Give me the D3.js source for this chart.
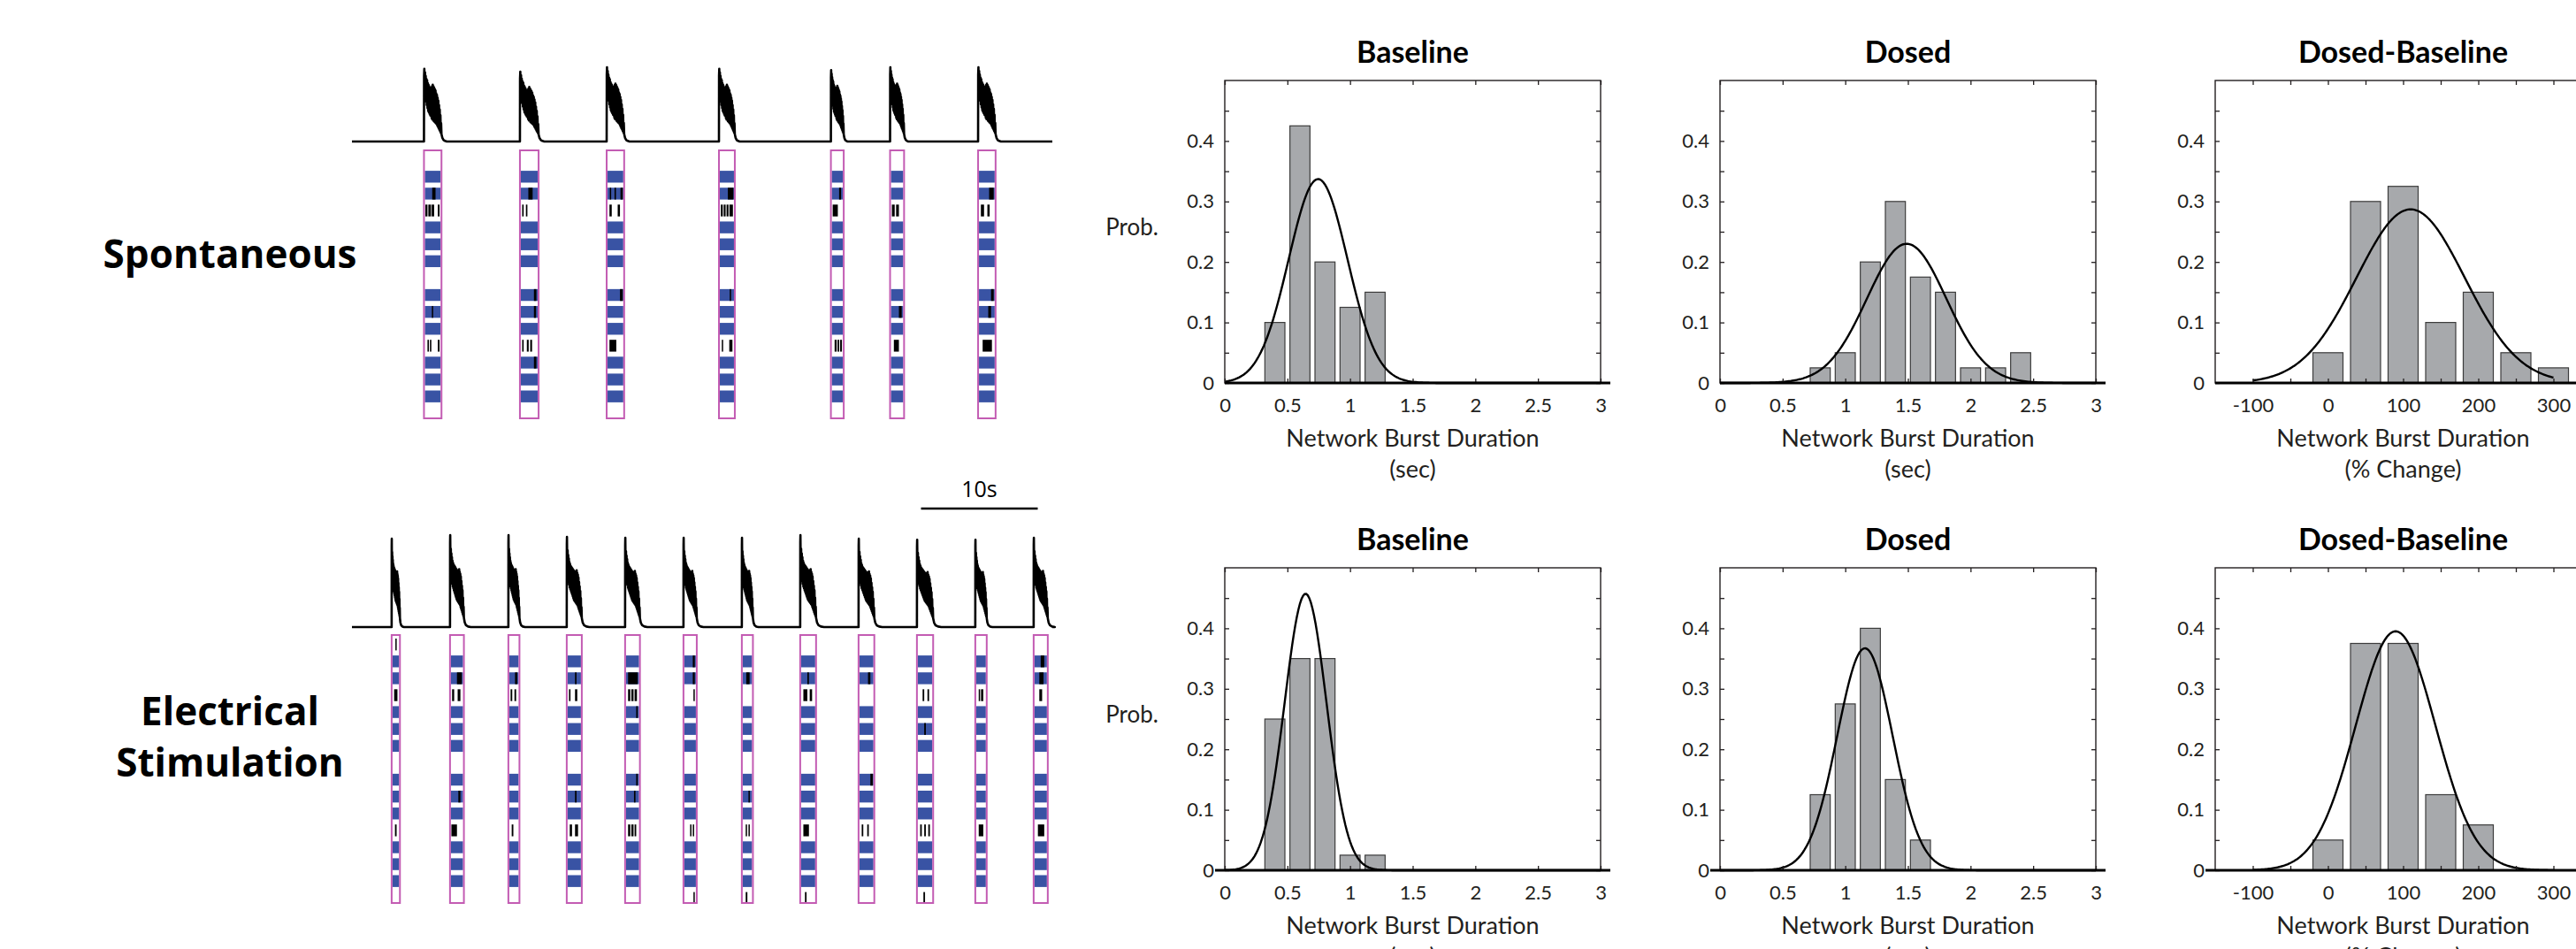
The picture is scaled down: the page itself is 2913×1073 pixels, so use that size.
<!DOCTYPE html>
<html>
<head>
<meta charset="utf-8">
<script src="https://cdn.jsdelivr.net/npm/d3@7"></script>
<style>
  body { margin: 0; background: #fff; }
  svg { display: block; }
</style>
</head>
<body>
<div id="chart"></div>
<script>
// ---------- data ----------
var conditionLabels = [["Spontaneous"], ["Electrical", "Stimulation"]];
var panelTitles = ["Baseline", "Dosed", "Dosed-Baseline"];
var xLabelLines = [["Network Burst Duration", "(sec)"], ["Network Burst Duration", "(sec)"], ["Network Burst Duration", "(% Change)"]];
var secTickLabels = [0, 0.5, 1, 1.5, 2, 2.5, 3];
var pctTickLabels = [-100, 0, 100, 200, 300];
var probTickLabels = [0, 0.1, 0.2, 0.3, 0.4];

// spontaneous histograms (bin centre, probability)
var spontBaselineBins = [0.4, 0.6, 0.8, 1.0, 1.2];
var spontBaselineProb = [0.1, 0.425, 0.2, 0.125, 0.15];
var spontDosedBins = [0.8, 1.0, 1.2, 1.4, 1.6, 1.8, 2.0, 2.2, 2.4];
var spontDosedProb = [0.025, 0.05, 0.2, 0.3, 0.175, 0.15, 0.025, 0.025, 0.05];
var spontChangeBins = [0, 50, 100, 150, 200, 250, 300];
var spontChangeProb = [0.05, 0.3, 0.325, 0.1, 0.15, 0.05, 0.025];

// stimulated histograms
var stimBaselineBins = [0.4, 0.6, 0.8, 1.0, 1.2];
var stimBaselineProb = [0.25, 0.35, 0.35, 0.025, 0.025];
var stimDosedBins = [0.8, 1.0, 1.2, 1.4, 1.6];
var stimDosedProb = [0.125, 0.275, 0.4, 0.15, 0.05];
var stimChangeBins = [0, 50, 100, 150, 200];
var stimChangeProb = [0.05, 0.375, 0.375, 0.125, 0.075];

// normal fits drawn over each histogram: [Baseline, Dosed, Dosed-Baseline]
var spontFitMean = [0.745, 1.49, 110];
var spontFitSd = [0.235, 0.317, 72];
var spontFitPeak = [0.337, 0.23, 0.287];
var stimFitMean = [0.645, 1.157, 90];
var stimFitSd = [0.167, 0.221, 53];
var stimFitPeak = [0.457, 0.367, 0.395];

// network burst traces (60 s recordings): onset (s), duration (s), relative peak
var spontOnsets = [6.17, 14.39, 21.82, 31.44, 41.03, 46.1, 53.64];
var spontDurations = [1.5, 1.6, 1.5, 1.36, 1.1, 1.2, 1.5];
var spontPeaks = [0.98, 0.94, 1.0, 0.98, 0.96, 1.0, 1.0];
var stimOnsets = [3.4, 8.4, 13.4, 18.4, 23.4, 28.4, 33.4, 38.4, 43.4, 48.4, 53.4, 58.4];
var stimDurations = [0.71, 1.19, 0.95, 1.29, 1.27, 1.14, 0.95, 1.36, 1.35, 1.39, 0.98, 1.21];
var stimPeaks = [0.96, 1.0, 1.0, 0.98, 0.97, 0.97, 0.97, 1.0, 0.96, 0.95, 0.95, 0.97];

// shape of one burst in the trace: time as fraction of burst duration, amplitude as fraction of peak
var spontShapeT = [0, 0.005, 0.02, 0.04, 0.06, 0.08, 0.10, 0.12, 0.14, 0.16, 0.18, 0.20, 0.22, 0.24, 0.26, 0.28, 0.30, 0.32, 0.34, 0.36, 0.38, 0.40, 0.42, 0.44, 0.46, 0.48, 0.50, 0.52, 0.54, 0.56, 0.58, 0.60, 0.62, 0.64, 0.66, 0.68, 0.70, 0.72, 0.74, 0.76, 0.78, 0.80, 0.82, 0.84, 0.86, 0.88, 0.90, 0.92, 0.94, 0.96, 0.98, 1.0, 1.05, 1.12, 1.2, 1.3];
var spontShapeA = [0, 0.9, 1.0, 0.72, 0.95, 0.62, 0.9, 0.55, 0.86, 0.5, 0.84, 0.46, 0.8, 0.42, 0.78, 0.4, 0.76, 0.38, 0.72, 0.36, 0.7, 0.35, 0.74, 0.32, 0.76, 0.3, 0.78, 0.3, 0.76, 0.28, 0.74, 0.27, 0.72, 0.26, 0.7, 0.25, 0.66, 0.24, 0.64, 0.22, 0.6, 0.2, 0.56, 0.18, 0.5, 0.16, 0.44, 0.14, 0.36, 0.12, 0.25, 0.1, 0.05, 0.02, 0.008, 0];
var stimShapeT = [0, 0.005, 0.015, 0.04, 0.06, 0.08, 0.10, 0.12, 0.14, 0.16, 0.18, 0.20, 0.22, 0.24, 0.26, 0.28, 0.30, 0.32, 0.34, 0.36, 0.38, 0.40, 0.42, 0.44, 0.46, 0.48, 0.50, 0.52, 0.54, 0.56, 0.58, 0.60, 0.62, 0.64, 0.66, 0.68, 0.70, 0.72, 0.74, 0.76, 0.78, 0.80, 0.82, 0.84, 0.86, 0.88, 0.90, 0.92, 0.94, 0.96, 0.98, 1.0, 1.06, 1.15, 1.3, 1.5];
var stimShapeA = [0, 0.92, 1.0, 0.6, 0.85, 0.55, 0.8, 0.5, 0.76, 0.47, 0.72, 0.44, 0.7, 0.42, 0.68, 0.4, 0.67, 0.38, 0.66, 0.36, 0.65, 0.34, 0.64, 0.32, 0.63, 0.3, 0.62, 0.29, 0.6, 0.28, 0.6, 0.27, 0.62, 0.26, 0.63, 0.25, 0.6, 0.24, 0.58, 0.22, 0.55, 0.2, 0.5, 0.18, 0.45, 0.16, 0.4, 0.14, 0.32, 0.12, 0.22, 0.1, 0.05, 0.02, 0.006, 0];

// 16 electrode rows per burst; rows that carry a blue raster block
var blueRows = [1, 2, 4, 5, 6, 8, 9, 10, 12, 13, 14];
// black spike marks per burst: [row, start fraction, end fraction] of the burst box
var spontSpikes = [
  [[2,0.47,0.66],[3,0.08,0.2],[3,0.25,0.4],[3,0.44,0.58],[3,0.79,0.89],[9,0.45,0.52],[11,0.2,0.28],[11,0.34,0.42],[11,0.79,0.89]],
  [[2,0.45,0.68],[3,0.12,0.2],[3,0.32,0.4],[8,0.75,0.88],[9,0.75,0.86],[11,0.12,0.2],[11,0.37,0.47],[11,0.55,0.65],[12,0.75,0.88]],
  [[2,0.18,0.24],[2,0.45,0.53],[2,0.79,0.92],[3,0.16,0.29],[3,0.63,0.76],[8,0.76,0.92],[11,0.16,0.55]],
  [[2,0.56,0.91],[3,0.12,0.24],[3,0.3,0.42],[3,0.48,0.6],[3,0.66,0.88],[8,0.68,0.76],[11,0.18,0.26],[11,0.65,0.85]],
  [[2,0.64,0.79],[3,0.14,0.54],[11,0.29,0.45],[11,0.52,0.65],[11,0.72,0.86]],
  [[3,0.13,0.33],[3,0.43,0.63],[9,0.63,0.83],[11,0.27,0.63]],
  [[2,0.63,0.89],[3,0.16,0.34],[3,0.53,0.66],[8,0.74,0.89],[9,0.58,0.74],[11,0.26,0.79]]
];
var stimSpikes = [
  [[0,0.45,0.6],[3,0.3,0.7],[11,0.4,0.6]],
  [[2,0.5,0.85],[3,0.15,0.3],[3,0.55,0.75],[9,0.6,0.75],[11,0.1,0.5]],
  [[2,0.6,0.8],[3,0.2,0.35],[3,0.55,0.7],[11,0.3,0.45]],
  [[2,0.55,0.65],[3,0.15,0.25],[3,0.55,0.7],[9,0.55,0.65],[11,0.2,0.35],[11,0.55,0.75]],
  [[2,0.2,0.85],[3,0.2,0.35],[3,0.42,0.57],[3,0.64,0.8],[4,0.75,0.85],[8,0.75,0.85],[9,0.6,0.7],[11,0.2,0.35],[11,0.42,0.57],[11,0.64,0.75]],
  [[1,0.7,0.85],[2,0.7,0.85],[3,0.75,0.85],[11,0.5,0.6],[11,0.7,0.8],[15,0.75,0.85]],
  [[2,0.4,0.7],[9,0.6,0.7],[11,0.35,0.45],[11,0.6,0.7],[15,0.35,0.5]],
  [[2,0.45,0.55],[3,0.2,0.45],[3,0.6,0.75],[11,0.2,0.55],[15,0.3,0.4]],
  [[2,0.6,0.75],[8,0.75,0.9],[11,0.2,0.3],[11,0.55,0.65]],
  [[3,0.35,0.45],[3,0.65,0.75],[5,0.45,0.55],[11,0.2,0.3],[11,0.45,0.55],[11,0.7,0.8],[15,0.4,0.5]],
  [[3,0.3,0.42],[3,0.5,0.7],[11,0.3,0.7]],
  [[1,0.5,0.75],[2,0.4,0.7],[3,0.4,0.6],[11,0.3,0.75]]
];
var scaleBarStart = 48.75, scaleBarSeconds = 10;

// ---------- layout ----------
var W = 2913, H = 1073;
var svg = d3.select("#chart").append("svg")
    .attr("width", W)
    .attr("height", H);

var ink = "#231f20";
var histFont = "Lato, 'Open Sans', sans-serif";

// left column labels
var labelY = [[303], [820, 878]];
conditionLabels.forEach(function(lines, r) {
  lines.forEach(function(t, k) {
    svg.append("text")
      .text(t)
      .attr("x", 260)
      .attr("y", labelY[r][k])
      .attr("text-anchor", "middle")
      .attr("font-family", "'Open Sans', sans-serif")
      .attr("font-weight", "bold")
      .attr("font-size", "44px")
      .attr("fill", "#000");
  });
});

// ---------- traces + rasters ----------
var time = d3.scaleLinear().domain([0, 60]).range([398, 1190]);

function drawTrace(onsets, durations, peaks, shapeT, shapeA, spikes, baseY, peakY, boxTop, boxBottom) {
  var amp = d3.scaleLinear().domain([0, 1]).range([baseY, peakY]);
  var pts = [[0, 0]];
  onsets.forEach(function(t0, i) {
    shapeT.forEach(function(f, k) {
      pts.push([t0 + f * durations[i], shapeA[k] * peaks[i]]);
    });
  });
  pts.push([60, 0]);

  svg.append("path")
    .datum(pts)
    .attr("fill", "none")
    .attr("stroke", "#000")
    .attr("stroke-width", 2.6)
    .attr("stroke-linejoin", "round")
    .attr("d", d3.line()
      .x(function(d) { return time(d[0]); })
      .y(function(d) { return amp(d[1]); }));

  var rows = d3.scaleBand().domain(d3.range(16)).range([boxTop + 4, boxBottom + 1]).paddingInner(0.3);

  onsets.forEach(function(t0, i) {
    var x0 = time(t0), x1 = time(t0 + durations[i]);
    var g = svg.append("g");
    g.selectAll("rect.blue")
      .data(blueRows)
      .enter().append("rect")
      .attr("x", x0 + 1)
      .attr("width", x1 - x0 - 2)
      .attr("y", function(r) { return rows(r); })
      .attr("height", rows.bandwidth())
      .attr("fill", "#3953a4");
    g.selectAll("rect.spike")
      .data(spikes[i])
      .enter().append("rect")
      .attr("x", function(d) { return x0 + d[1] * (x1 - x0); })
      .attr("width", function(d) { return Math.max(1.5, (d[2] - d[1]) * (x1 - x0)); })
      .attr("y", function(d) { return rows(d[0]); })
      .attr("height", rows.bandwidth())
      .attr("fill", "#000");
    g.append("rect")
      .attr("x", x0)
      .attr("y", boxTop)
      .attr("width", x1 - x0)
      .attr("height", boxBottom - boxTop)
      .attr("fill", "none")
      .attr("stroke", "#c35cb3")
      .attr("stroke-width", 2);
  });
}

drawTrace(spontOnsets, spontDurations, spontPeaks, spontShapeT, spontShapeA, spontSpikes, 160, 76, 170, 473);
drawTrace(stimOnsets, stimDurations, stimPeaks, stimShapeT, stimShapeA, stimSpikes, 709, 605, 718, 1021);

// 10 s scale bar
svg.append("line")
  .attr("x1", time(scaleBarStart))
  .attr("x2", time(scaleBarStart + scaleBarSeconds))
  .attr("y1", 575).attr("y2", 575)
  .attr("stroke", "#000")
  .attr("stroke-width", 2.5);
svg.append("text")
  .text(scaleBarSeconds + "s")
  .attr("x", time(scaleBarStart + scaleBarSeconds / 2))
  .attr("y", 562)
  .attr("text-anchor", "middle")
  .attr("font-family", "'Open Sans', sans-serif")
  .attr("font-size", "25px")
  .attr("fill", "#000");

// ---------- histograms ----------
var panelLeft = [1385, 1945, 2505];
var rowTop = [91, 642];
var PW = 425, PH = 342;

var histRows = [
  {bins: [spontBaselineBins, spontDosedBins, spontChangeBins],
   prob: [spontBaselineProb, spontDosedProb, spontChangeProb],
   mean: spontFitMean, sd: spontFitSd, peak: spontFitPeak, extL: 0},
  {bins: [stimBaselineBins, stimDosedBins, stimChangeBins],
   prob: [stimBaselineProb, stimDosedProb, stimChangeProb],
   mean: stimFitMean, sd: stimFitSd, peak: stimFitPeak, extL: 11}
];

histRows.forEach(function(row, r) {
  for (var p = 0; p < 3; p++) {
    var isPct = (p === 2);
    var g = svg.append("g")
      .attr("transform", "translate(" + panelLeft[p] + "," + rowTop[r] + ")");

    var x = d3.scaleLinear()
      .domain(isPct ? [-150, 350] : [0, 3])
      .range([0, PW]);
    var y = d3.scaleLinear()
      .domain([0, 0.5])
      .range([PH, 0]);

    var binW = isPct ? 50 : 0.2;
    var xMinor = isPct ? d3.range(-100, 351, 50) : d3.range(0, 3.01, 0.5);
    var yMinor = d3.range(0, 0.49, 0.05);
    var xLabels = isPct ? pctTickLabels : secTickLabels;

    // bars
    var data = row.bins[p].map(function(c, i) { return {c: c, v: row.prob[p][i]}; });
    g.selectAll("rect.bar")
      .data(data)
      .enter().append("rect")
      .attr("x", function(d) { return x(d.c - 0.4 * binW); })
      .attr("width", function(d) { return x(d.c + 0.4 * binW) - x(d.c - 0.4 * binW); })
      .attr("y", function(d) { return y(d.v); })
      .attr("height", function(d) { return PH - y(d.v); })
      .attr("fill", "#a7a9ac")
      .attr("stroke", "#3c3c3c")
      .attr("stroke-width", 1.2);

    // fitted normal curve
    var lo = isPct ? -100 : 0, hi = isPct ? 300 : 3;
    var m = row.mean[p], s = row.sd[p], a = row.peak[p];
    var curve = d3.range(0, 241).map(function(k) {
      var xv = lo + (hi - lo) * k / 240;
      return [xv, a * Math.exp(-0.5 * Math.pow((xv - m) / s, 2))];
    });
    g.append("path")
      .datum(curve)
      .attr("fill", "none")
      .attr("stroke", "#000")
      .attr("stroke-width", 2.4)
      .attr("d", d3.line()
        .x(function(d) { return x(d[0]); })
        .y(function(d) { return y(d[1]); }));

    // frame
    g.append("rect")
      .attr("width", PW).attr("height", PH)
      .attr("fill", "none")
      .attr("stroke", ink)
      .attr("stroke-width", 1.4);

    // inward ticks on all four sides
    var fmtY = function(d) {
      var k = Math.round(d * 100);
      return (k % 10 === 0 && k <= 40) ? (k === 0 ? "0" : d3.format(".1f")(d)) : "";
    };
    var fmtX = function(d) {
      return xLabels.some(function(v) { return Math.abs(v - d) < 1e-9; }) ? String(d) : "";
    };
    var axL = g.append("g").call(d3.axisLeft(y).tickValues(yMinor).tickSizeInner(-5).tickSizeOuter(0).tickPadding(12).tickFormat(fmtY));
    var axR = g.append("g").attr("transform", "translate(" + PW + ",0)")
      .call(d3.axisRight(y).tickValues(yMinor).tickSizeInner(-5).tickSizeOuter(0).tickFormat(""));
    var axT = g.append("g").call(d3.axisTop(x).tickValues(xMinor).tickSizeInner(-5).tickSizeOuter(0).tickFormat(""));
    var axB = g.append("g").attr("transform", "translate(0," + PH + ")")
      .call(d3.axisBottom(x).tickValues(xMinor).tickSizeInner(-5).tickSizeOuter(0).tickPadding(17).tickFormat(fmtX));
    [axL, axR, axT, axB].forEach(function(ax) {
      ax.select(".domain").remove();
      ax.selectAll("line").attr("stroke", ink).attr("stroke-width", 1.3);
      ax.attr("font-family", histFont).attr("font-size", 22);
      ax.selectAll("text").attr("fill", ink);
    });

    // zero line under the bars
    g.append("line")
      .attr("x1", -row.extL).attr("x2", PW + 11)
      .attr("y1", PH).attr("y2", PH)
      .attr("stroke", "#000")
      .attr("stroke-width", 2.8);

    // title
    g.append("text")
      .text(panelTitles[p])
      .attr("x", PW / 2)
      .attr("y", -20)
      .attr("text-anchor", "middle")
      .attr("font-family", histFont)
      .attr("font-weight", "bold")
      .attr("font-size", "34px")
      .attr("fill", "#000");

    // x label (two lines)
    xLabelLines[p].forEach(function(t, k) {
      g.append("text")
        .text(t)
        .attr("x", PW / 2)
        .attr("y", PH + 72 + k * 35)
        .attr("text-anchor", "middle")
        .attr("font-family", histFont)
        .attr("font-size", "27px")
        .attr("fill", ink);
    });

    if (p === 0) {
      g.append("text")
        .text("Prob.")
        .attr("x", 1280 - panelLeft[0])
        .attr("y", PH / 2 + 4)
        .attr("text-anchor", "middle")
        .attr("font-family", histFont)
        .attr("font-size", "26px")
        .attr("fill", ink);
    }
  }
});
</script>
</body>
</html>
